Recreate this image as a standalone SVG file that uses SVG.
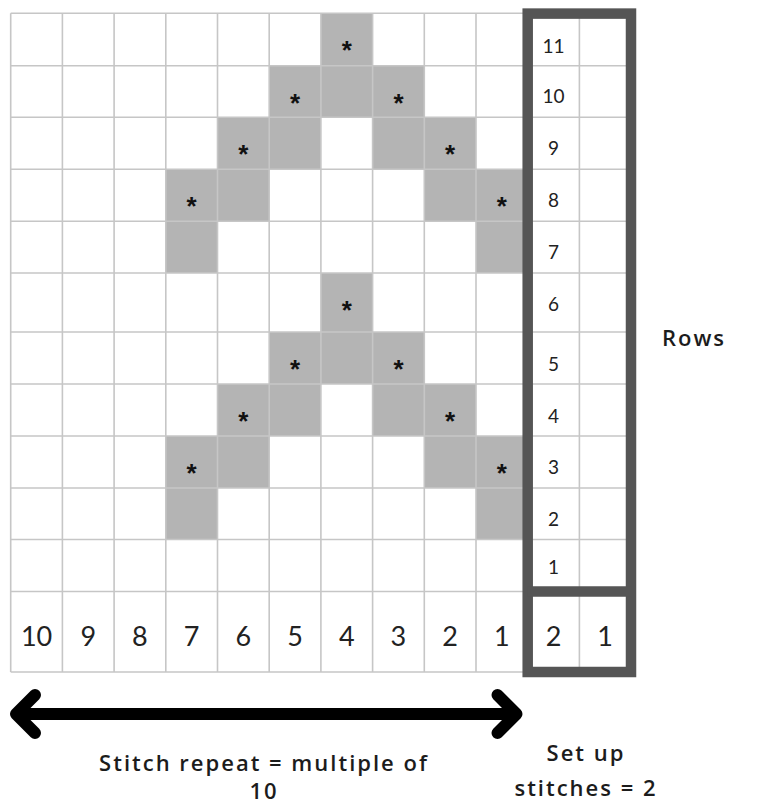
<svg xmlns="http://www.w3.org/2000/svg" width="763" height="805" viewBox="0 0 763 805">
<defs>
<style>
.cell{fill:#b4b4b4}
.grid{stroke:#c6c6c6;stroke-width:1.6;fill:none}
.frame{stroke:#555555;stroke-width:10.5;fill:none}
.star{font-family:"Liberation Sans",Arial,sans-serif;font-size:26px;font-weight:bold;fill:#111;text-anchor:middle}
.rl{font-family:Lato,"Open Sans",sans-serif;font-size:19px;fill:#222;text-anchor:middle}
.bl{font-family:Lato,"Open Sans",sans-serif;font-size:27px;fill:#222;text-anchor:middle}
.lab{font-family:"Open Sans","Noto Sans",sans-serif;font-size:22px;font-weight:600;letter-spacing:2px;fill:#1c1c1c;text-anchor:middle}
.arrow{stroke:#000;stroke-width:12;fill:none;stroke-linecap:round;stroke-linejoin:round}
</style>
</defs>
<rect width="763" height="805" fill="#ffffff"/>
<g id="shaded-cells">
<rect class="cell" x="320.9" y="13.3" width="51.7" height="52.4"/>
<rect class="cell" x="269.2" y="65.7" width="155.1" height="51.6"/>
<rect class="cell" x="217.5" y="117.3" width="103.4" height="52"/>
<rect class="cell" x="372.6" y="117.3" width="103.4" height="52"/>
<rect class="cell" x="165.8" y="169.3" width="103.4" height="51.9"/>
<rect class="cell" x="424.3" y="169.3" width="103.4" height="51.9"/>
<rect class="cell" x="165.8" y="221.2" width="51.7" height="51.8"/>
<rect class="cell" x="476.0" y="221.2" width="51.7" height="51.8"/>
<rect class="cell" x="320.9" y="273" width="51.7" height="59"/>
<rect class="cell" x="269.2" y="332" width="155.1" height="52"/>
<rect class="cell" x="217.5" y="384" width="103.4" height="52"/>
<rect class="cell" x="372.6" y="384" width="103.4" height="52"/>
<rect class="cell" x="165.8" y="436" width="103.4" height="52"/>
<rect class="cell" x="424.3" y="436" width="103.4" height="52"/>
<rect class="cell" x="165.8" y="488" width="51.7" height="51.5"/>
<rect class="cell" x="476.0" y="488" width="51.7" height="51.5"/>
</g>
<g id="grid">
<path class="grid" d="M10.7,13.3V672 M62.4,13.3V672 M114.1,13.3V672 M165.8,13.3V672 M217.5,13.3V672 M269.2,13.3V672 M320.9,13.3V672 M372.6,13.3V672 M424.3,13.3V672 M476,13.3V672 M579.4,13.3V672"/>
<path class="grid" d="M10.7,13.3H631 M10.7,65.7H631 M10.7,117.3H631 M10.7,169.3H631 M10.7,221.2H631 M10.7,273H631 M10.7,332H631 M10.7,384H631 M10.7,436H631 M10.7,488H631 M10.7,539.5H631 M10.7,591.5H631 M10.7,672H631"/>
</g>
<g id="stars">
<text class="star" x="346.75" y="59.3">*</text>
<text class="star" x="295.05" y="111.7">*</text>
<text class="star" x="398.45" y="111.7">*</text>
<text class="star" x="243.35" y="163.3">*</text>
<text class="star" x="450.15" y="163.3">*</text>
<text class="star" x="191.65" y="215.3">*</text>
<text class="star" x="501.85" y="215.3">*</text>
<text class="star" x="346.75" y="319">*</text>
<text class="star" x="295.05" y="378">*</text>
<text class="star" x="398.45" y="378">*</text>
<text class="star" x="243.35" y="430">*</text>
<text class="star" x="450.15" y="430">*</text>
<text class="star" x="191.65" y="482">*</text>
<text class="star" x="501.85" y="482">*</text>
</g>
<g id="row-numbers">
<text class="rl" x="553.5" y="53">11</text>
<text class="rl" x="553.5" y="103">10</text>
<text class="rl" x="553.5" y="155">9</text>
<text class="rl" x="553.5" y="207">8</text>
<text class="rl" x="553.5" y="259">7</text>
<text class="rl" x="553.5" y="311">6</text>
<text class="rl" x="553.5" y="371">5</text>
<text class="rl" x="553.5" y="423">4</text>
<text class="rl" x="553.5" y="474">3</text>
<text class="rl" x="553.5" y="526">2</text>
<text class="rl" x="553.5" y="574">1</text>
</g>
<g id="stitch-numbers">
<text class="bl" x="36.55" y="645.5">10</text>
<text class="bl" x="88.25" y="645.5">9</text>
<text class="bl" x="139.95" y="645.5">8</text>
<text class="bl" x="191.65" y="645.5">7</text>
<text class="bl" x="243.35" y="645.5">6</text>
<text class="bl" x="295.05" y="645.5">5</text>
<text class="bl" x="346.75" y="645.5">4</text>
<text class="bl" x="398.45" y="645.5">3</text>
<text class="bl" x="450.15" y="645.5">2</text>
<text class="bl" x="501.85" y="645.5">1</text>
<text class="bl" x="553.5" y="645.5">2</text>
<text class="bl" x="605.2" y="645.5">1</text>
</g>
<g id="setup-frame">
<rect class="frame" x="527.7" y="13.6" width="103.3" height="658.4"/>
<path class="frame" d="M527.7,591.6H631"/>
</g>
<g id="connectors">
<path class="arrow" d="M35,695 L16,714 L35,733 M16,714 H516.5 M497.5,695 L516.5,714 L497.5,733"/>
</g>
<g id="labels">
<text class="lab" x="694" y="346">Rows</text>
<text class="lab" x="264" y="771">Stitch repeat = multiple of</text>
<text class="lab" x="264" y="799">10</text>
<text class="lab" x="586" y="761">Set up</text>
<text class="lab" x="586" y="796">stitches = 2</text>
</g>
</svg>
